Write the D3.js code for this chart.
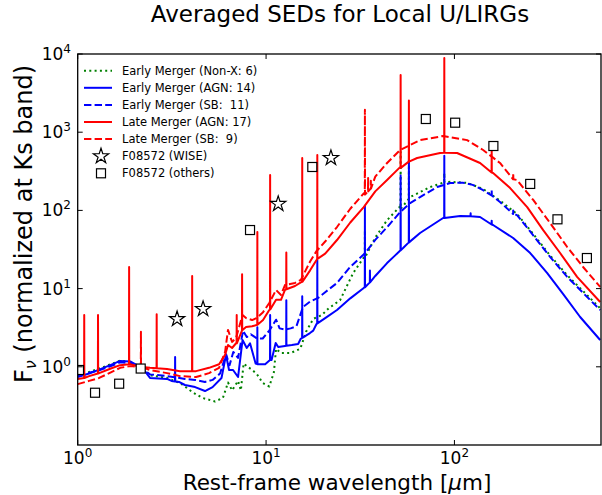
<!DOCTYPE html>
<html>
<head>
<meta charset="utf-8">
<script src="https://cdn.jsdelivr.net/npm/d3@7"></script>
<style>
  body { margin: 0; background: #fff; }
  svg { display: block; }
  text { font-family: "DejaVu Sans", sans-serif; fill: #000; white-space: pre; }
</style>
</head>
<body>
<svg id="chart" width="602" height="495"></svg>
<script>
// Averaged template continua: [rest wavelength (um), F_nu normalised at Ks]
const earlyNonX = [[1.0,0.80],[1.15,0.86],[1.3,0.95],[1.5,1.08],[1.68,1.2],[1.9,1.15],[2.14,1.0],[2.42,0.78],[2.98,0.72],[3.5,0.62],[4.09,0.47],[4.6,0.40],[5.36,0.36],[5.9,0.40],[6.28,0.63],[6.6,0.50],[7.1,0.66],[7.35,0.50],[7.6,1.1],[8.0,1.0],[8.5,0.9],[8.96,0.8],[9.6,0.62],[10.4,0.56],[11.0,0.85],[11.3,1.7],[12.0,1.5],[13.5,1.5],[15.2,1.7],[16.3,2.8],[17.8,4.1],[19.8,4.6],[21.5,5.6],[24.7,7.1],[29,15.8],[33.0,25],[38,45],[43.9,75],[51,110],[58.2,148],[74.3,199],[95,232],[117,225],[142,188],[175,133],[215,90],[262,50],[322,26.5],[397,14.8],[482,9.3],[594,5.6]];
const earlyAGN = [[1.0,0.74],[1.15,0.82],[1.3,0.92],[1.5,1.06],[1.68,1.19],[1.9,1.17],[2.14,1.0],[2.3,0.85],[2.42,0.72],[2.98,0.70],[3.15,0.66],[3.45,0.64],[3.71,0.585],[4.2,0.55],[4.74,0.49],[5.2,0.55],[5.8,0.72],[6.13,1.42],[6.36,0.91],[6.68,0.91],[7.1,0.74],[7.5,2.2],[7.9,1.74],[8.22,2.0],[8.8,1.1],[9.89,1.08],[10.7,1.22],[11.25,2.02],[11.6,1.79],[12.6,1.85],[13.7,1.9],[14.8,1.96],[15.3,2.3],[17.1,2.7],[17.8,2.9],[18.5,3.5],[20.6,4.2],[23.8,5.32],[28,7.5],[33.0,10.2],[38,14.5],[43.9,21.2],[48,26],[53.4,33],[65.7,51.4],[87.1,80],[107.2,84.8],[136.8,82.4],[160.4,65],[205,44.4],[252.5,28.5],[311,15.8],[378,8.5],[465,4.33],[594,2.2]];
const earlySB = [[1.0,0.78],[1.15,0.84],[1.3,0.9],[1.5,1.02],[1.68,1.14],[1.9,1.12],[2.14,1.0],[2.42,0.80],[2.98,0.76],[3.2,0.74],[3.71,0.70],[4.2,0.68],[4.74,0.64],[5.2,0.68],[5.7,0.82],[6.13,1.45],[6.4,1.05],[6.7,1.55],[7.1,1.3],[7.55,2.9],[7.9,2.4],[8.3,2.6],[8.96,2.3],[9.6,2.3],[10.4,2.9],[11.3,4.0],[11.8,3.1],[12.6,3.0],[13.5,3.1],[14.5,3.3],[15.7,5.8],[17.1,6.8],[18.9,7.6],[20.6,9.0],[23.8,11.8],[28,19],[33.6,28.5],[38,42],[43.9,61],[51.5,95],[58.2,124],[65.7,148],[81,199],[95,224],[111,226],[125,212],[142,182],[174.6,128],[215,87],[262,48],[322,25.4],[397,14.1],[482,8.8],[594,5.32]];
const lateAGN = [[1.0,0.70],[1.15,0.76],[1.3,0.83],[1.5,0.95],[1.68,1.05],[1.9,1.08],[2.14,1.0],[2.42,0.97],[2.98,0.94],[3.49,0.88],[4.25,0.88],[4.98,0.97],[5.63,1.08],[6.06,1.42],[6.28,1.9],[6.6,1.74],[6.93,2.0],[7.5,2.96],[7.83,3.23],[8.43,3.3],[8.9,3.42],[9.64,3.96],[10.4,5.32],[11.3,7.2],[12.0,7.2],[12.6,9.6],[14.25,10.8],[15.3,12.0],[17.1,17],[18.5,23],[20.6,28],[23.8,41.8],[28,70],[33.0,110],[38,175],[43.9,245],[51,350],[63.4,468],[83.9,542],[103.3,542],[136.8,404],[160.4,301],[197.6,193],[243.4,110],[296,56],[364,28.5],[448,14.1],[594,6.75]];
const lateSB = [[1.0,0.60],[1.15,0.66],[1.3,0.72],[1.5,0.85],[1.68,0.97],[1.9,1.02],[2.14,1.0],[2.42,0.91],[2.98,0.83],[3.49,0.76],[4.25,0.74],[4.98,0.83],[5.63,0.97],[6.06,1.55],[6.28,2.96],[6.6,2.08],[6.93,2.34],[7.5,4.6],[7.83,4.2],[8.43,3.96],[8.9,4.2],[9.64,5.0],[10.4,6.55],[11.3,9.6],[12.0,8.3],[12.6,11.1],[14.25,11.8],[15.3,12.9],[17.1,22],[18.5,30],[20.6,40],[23.8,61.3],[28,105],[33.0,165],[38,270],[43.9,404],[51.5,592],[65.7,792],[87.1,894],[116.8,792],[142,592],[174.6,404],[215,245],[262,136],[322,69],[397,34],[482,18.9],[594,10.5]];

// Emission lines: [wavelength (um), continuum level, line peak]
const earlyNonXLines = [[33.48,25,55],[51.81,105,560],[57.32,140,450],[88.36,228,300]];
const earlyAGNLines = [[3.29,0.65,1.33],[8.99,1.08,3.2],[10.51,1.22,4.6],[12.81,1.86,7.1],[15.56,2.35,8.0],[18.71,3.6,23],[33.48,10.4,115],[35.6,12,17],[51.81,31,280],[57.32,39,420],[88.36,80,500],[121.9,84,92],[157.7,66,74]];
const earlySBLines = [[157.7,155,180],[205.2,90,100]];
const lateAGNLines = [[1.083,0.72,4.6],[1.282,0.82,4.6],[1.875,1.08,18.9],[2.626,0.96,4.7],[4.052,0.88,14.5],[6.985,2.0,4.6],[7.46,2.9,15.3],[8.99,3.45,53],[10.51,5.4,284],[12.81,9.8,29],[15.56,12.2,468],[18.71,24,511],[51.81,350,5390],[57.32,420,2540],[88.36,545,8890],[157.7,305,590]];
const lateSBLines = [[2.166,1.0,2.8],[33.48,160,1930],[34.82,175,260],[36.0,190,240],[205.2,250,300]];

// Photometry of IRAS F08572+3915
const wisePhot = [[3.37,4.08],[4.63,5.49],[11.6,121],[22.1,468]];
const otherPhot = [[1.016,0.91],[1.236,0.466],[1.66,0.608],[2.16,0.95],[8.22,56.1],[17.6,359],[70.5,1475],[100.9,1323],[161,666],[252.5,218],[352.4,76.9],[505,24.6]];

const xTicks = [1, 10, 100];
const yTicks = [1, 10, 100, 1000, 10000];

const series = [
  { label: "Early Merger (Non-X: 6)", cont: earlyNonX, lines: earlyNonXLines, color: "#008000", dash: "2,3.3" },
  { label: "Early Merger (AGN: 14)", cont: earlyAGN, lines: earlyAGNLines, color: "#0000ff", dash: null },
  { label: "Early Merger (SB:  11)", cont: earlySB, lines: earlySBLines, color: "#0000ff", dash: "7.4,3.2" },
  { label: "Late Merger (AGN: 17)", cont: lateAGN, lines: lateAGNLines, color: "#ff0000", dash: null },
  { label: "Late Merger (SB:  9)", cont: lateSB, lines: lateSBLines, color: "#ff0000", dash: "7.4,3.2" }
];

const svg = d3.select("#chart");
const plot = { left: 77.7, right: 601, top: 54, bottom: 445 };

const x = d3.scaleLog().domain([1, 600]).range([plot.left, plot.right]);
const y = d3.scaleLog().domain([0.1, 10000]).range([plot.bottom, plot.top]);

svg.append("defs").append("clipPath").attr("id", "plotClip")
  .append("rect")
  .attr("x", plot.left).attr("y", plot.top)
  .attr("width", plot.right - plot.left).attr("height", plot.bottom - plot.top);

// Spectrum = continuum plus narrow line profiles
function spectrum(cont, lines) {
  const pts = cont.map(d => [d[0], d[1]]);
  lines.forEach(([lam, base, peak]) => {
    pts.push([lam * 0.9985, base], [lam, peak], [lam * 1.0015, base]);
  });
  return pts.sort((a, b) => a[0] - b[0]);
}

const line = d3.line().x(d => x(d[0])).y(d => y(d[1]));

const g = svg.append("g").attr("clip-path", "url(#plotClip)");
series.forEach(s => {
  g.append("path")
    .datum(spectrum(s.cont, s.lines))
    .attr("d", line)
    .attr("fill", "none")
    .attr("stroke", s.color)
    .attr("stroke-width", 2)
    .attr("stroke-linejoin", "round")
    .attr("stroke-dasharray", s.dash);
});

// Photometric points
const star = d3.symbol().type(d3.symbolStar).size(72);
g.selectAll(".wise").data(wisePhot).join("path")
  .attr("class", "wise")
  .attr("transform", d => `translate(${x(d[0])},${y(d[1])})`)
  .attr("d", star)
  .attr("fill", "#fff").attr("stroke", "#000").attr("stroke-width", 1.2);

const sq = 9;
g.selectAll(".other").data(otherPhot).join("rect")
  .attr("class", "other")
  .attr("x", d => x(d[0]) - sq / 2).attr("y", d => y(d[1]) - sq / 2)
  .attr("width", sq).attr("height", sq)
  .attr("fill", "#fff").attr("stroke", "#000").attr("stroke-width", 1.2);

// Frame and inward ticks on all four sides
const tickLen = 5;
const frame = svg.append("g");
frame.append("rect")
  .attr("x", plot.left).attr("y", plot.top)
  .attr("width", plot.right - plot.left).attr("height", plot.bottom - plot.top)
  .attr("fill", "none").attr("stroke", "#000").attr("stroke-width", 1.3);

xTicks.forEach(t => {
  const px = x(t);
  frame.append("line").attr("x1", px).attr("x2", px).attr("y1", plot.bottom).attr("y2", plot.bottom - tickLen).attr("stroke", "#000").attr("stroke-width", 1);
  frame.append("line").attr("x1", px).attr("x2", px).attr("y1", plot.top).attr("y2", plot.top + tickLen).attr("stroke", "#000").attr("stroke-width", 1);
});
yTicks.forEach(t => {
  const py = y(t);
  frame.append("line").attr("x1", plot.left).attr("x2", plot.left + tickLen).attr("y1", py).attr("y2", py).attr("stroke", "#000").attr("stroke-width", 1);
  frame.append("line").attr("x1", plot.right).attr("x2", plot.right - tickLen).attr("y1", py).attr("y2", py).attr("stroke", "#000").attr("stroke-width", 1);
});

function powerLabel(sel, t) {
  const e = Math.round(Math.log10(t));
  sel.append("tspan").text("10");
  sel.append("tspan").attr("dy", -7).attr("font-size", 12).text(e);
}

xTicks.forEach(t => {
  const txt = svg.append("text")
    .attr("x", x(t)).attr("y", 464)
    .attr("text-anchor", "middle").attr("font-size", 17);
  powerLabel(txt, t);
});
yTicks.forEach(t => {
  const txt = svg.append("text")
    .attr("x", 71).attr("y", y(t) + 6)
    .attr("text-anchor", "end").attr("font-size", 17);
  powerLabel(txt, t);
});

// Titles
svg.append("text")
  .attr("x", 340).attr("y", 22)
  .attr("text-anchor", "middle").attr("font-size", 23)
  .text("Averaged SEDs for Local U/LIRGs");

const xl = svg.append("text")
  .attr("x", 337).attr("y", 490)
  .attr("text-anchor", "middle").attr("font-size", 21.5);
xl.append("tspan").text("Rest-frame wavelength [");
xl.append("tspan").attr("font-style", "italic").text("\u03bc");
xl.append("tspan").text("m]");

const yl = svg.append("text")
  .attr("transform", "translate(32,224) rotate(-90)")
  .attr("text-anchor", "middle").attr("font-size", 24);
yl.append("tspan").text("F");
yl.append("tspan").attr("font-size", 16).attr("dy", 4).attr("font-style", "italic").text("\u03bd");
yl.append("tspan").attr("dy", -4).text(" (normalized at Ks band)");

// Legend
const leg = svg.append("g");
const rowY = [70.7, 87.8, 104.9, 122, 139.1, 156.2, 173.3];
series.forEach((s, i) => {
  leg.append("line")
    .attr("x1", 84).attr("x2", 112).attr("y1", rowY[i]).attr("y2", rowY[i])
    .attr("stroke", s.color).attr("stroke-width", 2).attr("stroke-dasharray", s.dash);
  leg.append("text").attr("x", 122).attr("y", rowY[i] + 4).attr("font-size", 11.5).text(s.label);
});
leg.append("path")
  .attr("transform", `translate(101,${rowY[5]})`).attr("d", star)
  .attr("fill", "#fff").attr("stroke", "#000").attr("stroke-width", 1.2);
leg.append("text").attr("x", 122).attr("y", rowY[5] + 4).attr("font-size", 11.5).text("F08572 (WISE)");
leg.append("rect")
  .attr("x", 101 - sq / 2).attr("y", rowY[6] - sq / 2).attr("width", sq).attr("height", sq)
  .attr("fill", "#fff").attr("stroke", "#000").attr("stroke-width", 1.2);
leg.append("text").attr("x", 122).attr("y", rowY[6] + 4).attr("font-size", 11.5).text("F08572 (others)");
</script>
</body>
</html>
